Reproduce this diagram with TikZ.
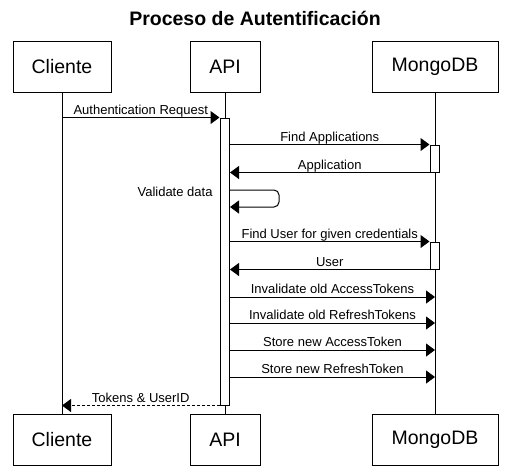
\documentclass[tikz,border=0pt]{standalone}
\usepackage{fontspec}
\setmainfont{Liberation Sans}
\usetikzlibrary{arrows.meta}
\tikzset{
    actor/.style={draw, fill=white, minimum height=51pt, inner sep=0pt, font=\fontsize{19.5}{22}\selectfont},
    activ/.style={draw, fill=white, minimum width=9.5pt, inner sep=0pt},
    msg/.style={-{Triangle[length=9pt,width=13pt]}},
    txt/.style={font=\fontsize{13}{15}\selectfont, inner sep=0pt},
    lbl/.style={txt, anchor=base, yshift=3.5pt}
}
\begin{document}
\begin{tikzpicture}[x=1pt, y=-1pt, line width=1pt]
    \useasboundingbox (0,0) rectangle (507,472);
    \node[font=\bfseries\fontsize{19.5}{22}\selectfont, anchor=base] (title) at (255,25) {Proceso de Autentificación};
    % participants, top and bottom
    \node[actor, minimum width=98pt] (c1) at (62,66.5) {Cliente};
    \node[actor, minimum width=70pt] (a1) at (225,66.5) {API};
    \node[actor, minimum width=126pt] (m1) at (435,66.5) {MongoDB};
    \node[actor, minimum width=98pt] (c2) at (62,439.5) {Cliente};
    \node[actor, minimum width=70pt] (a2) at (225,439.5) {API};
    \node[actor, minimum width=126pt] (m2) at (435,439.5) {MongoDB};
    \draw (c1) -- (c2);
    \draw (a1) -- (a2);
    \draw (m1) -- (m2);
    % activations
    \node[activ, minimum height=287pt] (aa) at (224.75,261.5) {};
    \node[activ, minimum height=27pt] (ma1) at (434.75,158.5) {};
    \node[activ, minimum height=27pt] (ma2) at (434.75,255.5) {};
    \coordinate (v1) at (0,190);
    \coordinate (v2) at (0,207);
    \coordinate (s1) at (0,297);
    \coordinate (s2) at (0,323);
    \coordinate (s3) at (0,350);
    \coordinate (s4) at (0,377);
    % messages
    \draw[msg] (c1.south |- aa.north) -- node[lbl]{Authentication Request} (aa.north west);
    \draw[msg] (aa.east |- ma1.north) -- node[lbl]{Find Applications} (ma1.north west);
    \draw[msg] (ma1.south west) -- node[lbl]{Application} (aa.east |- ma1.south);
    \draw[msg, rounded corners=5pt] (aa.east |- v1) -- (279,190) -- (279,207) -- (aa.east |- v2);
    \node[txt, anchor=base east] (vd) at (213,196) {Validate data};
    \draw[msg] (aa.east |- ma2.north) -- node[lbl]{Find User for given credentials} (ma2.north west);
    \draw[msg] (ma2.south west) -- node[lbl]{User} (aa.east |- ma2.south);
    \draw[msg] (aa.east |- s1) -- node[lbl]{Invalidate old AccessTokens} (m1.south |- s1);
    \draw[msg] (aa.east |- s2) -- node[lbl]{Invalidate old RefreshTokens} (m1.south |- s2);
    \draw[msg] (aa.east |- s3) -- node[lbl]{Store new AccessToken} (m1.south |- s3);
    \draw[msg] (aa.east |- s4) -- node[lbl]{Store new RefreshToken} (m1.south |- s4);
    \draw[msg, dash pattern=on 3pt off 2pt] (aa.south west) -- node[lbl]{Tokens \& UserID} (c1.south |- aa.south);
\end{tikzpicture}
\end{document}
